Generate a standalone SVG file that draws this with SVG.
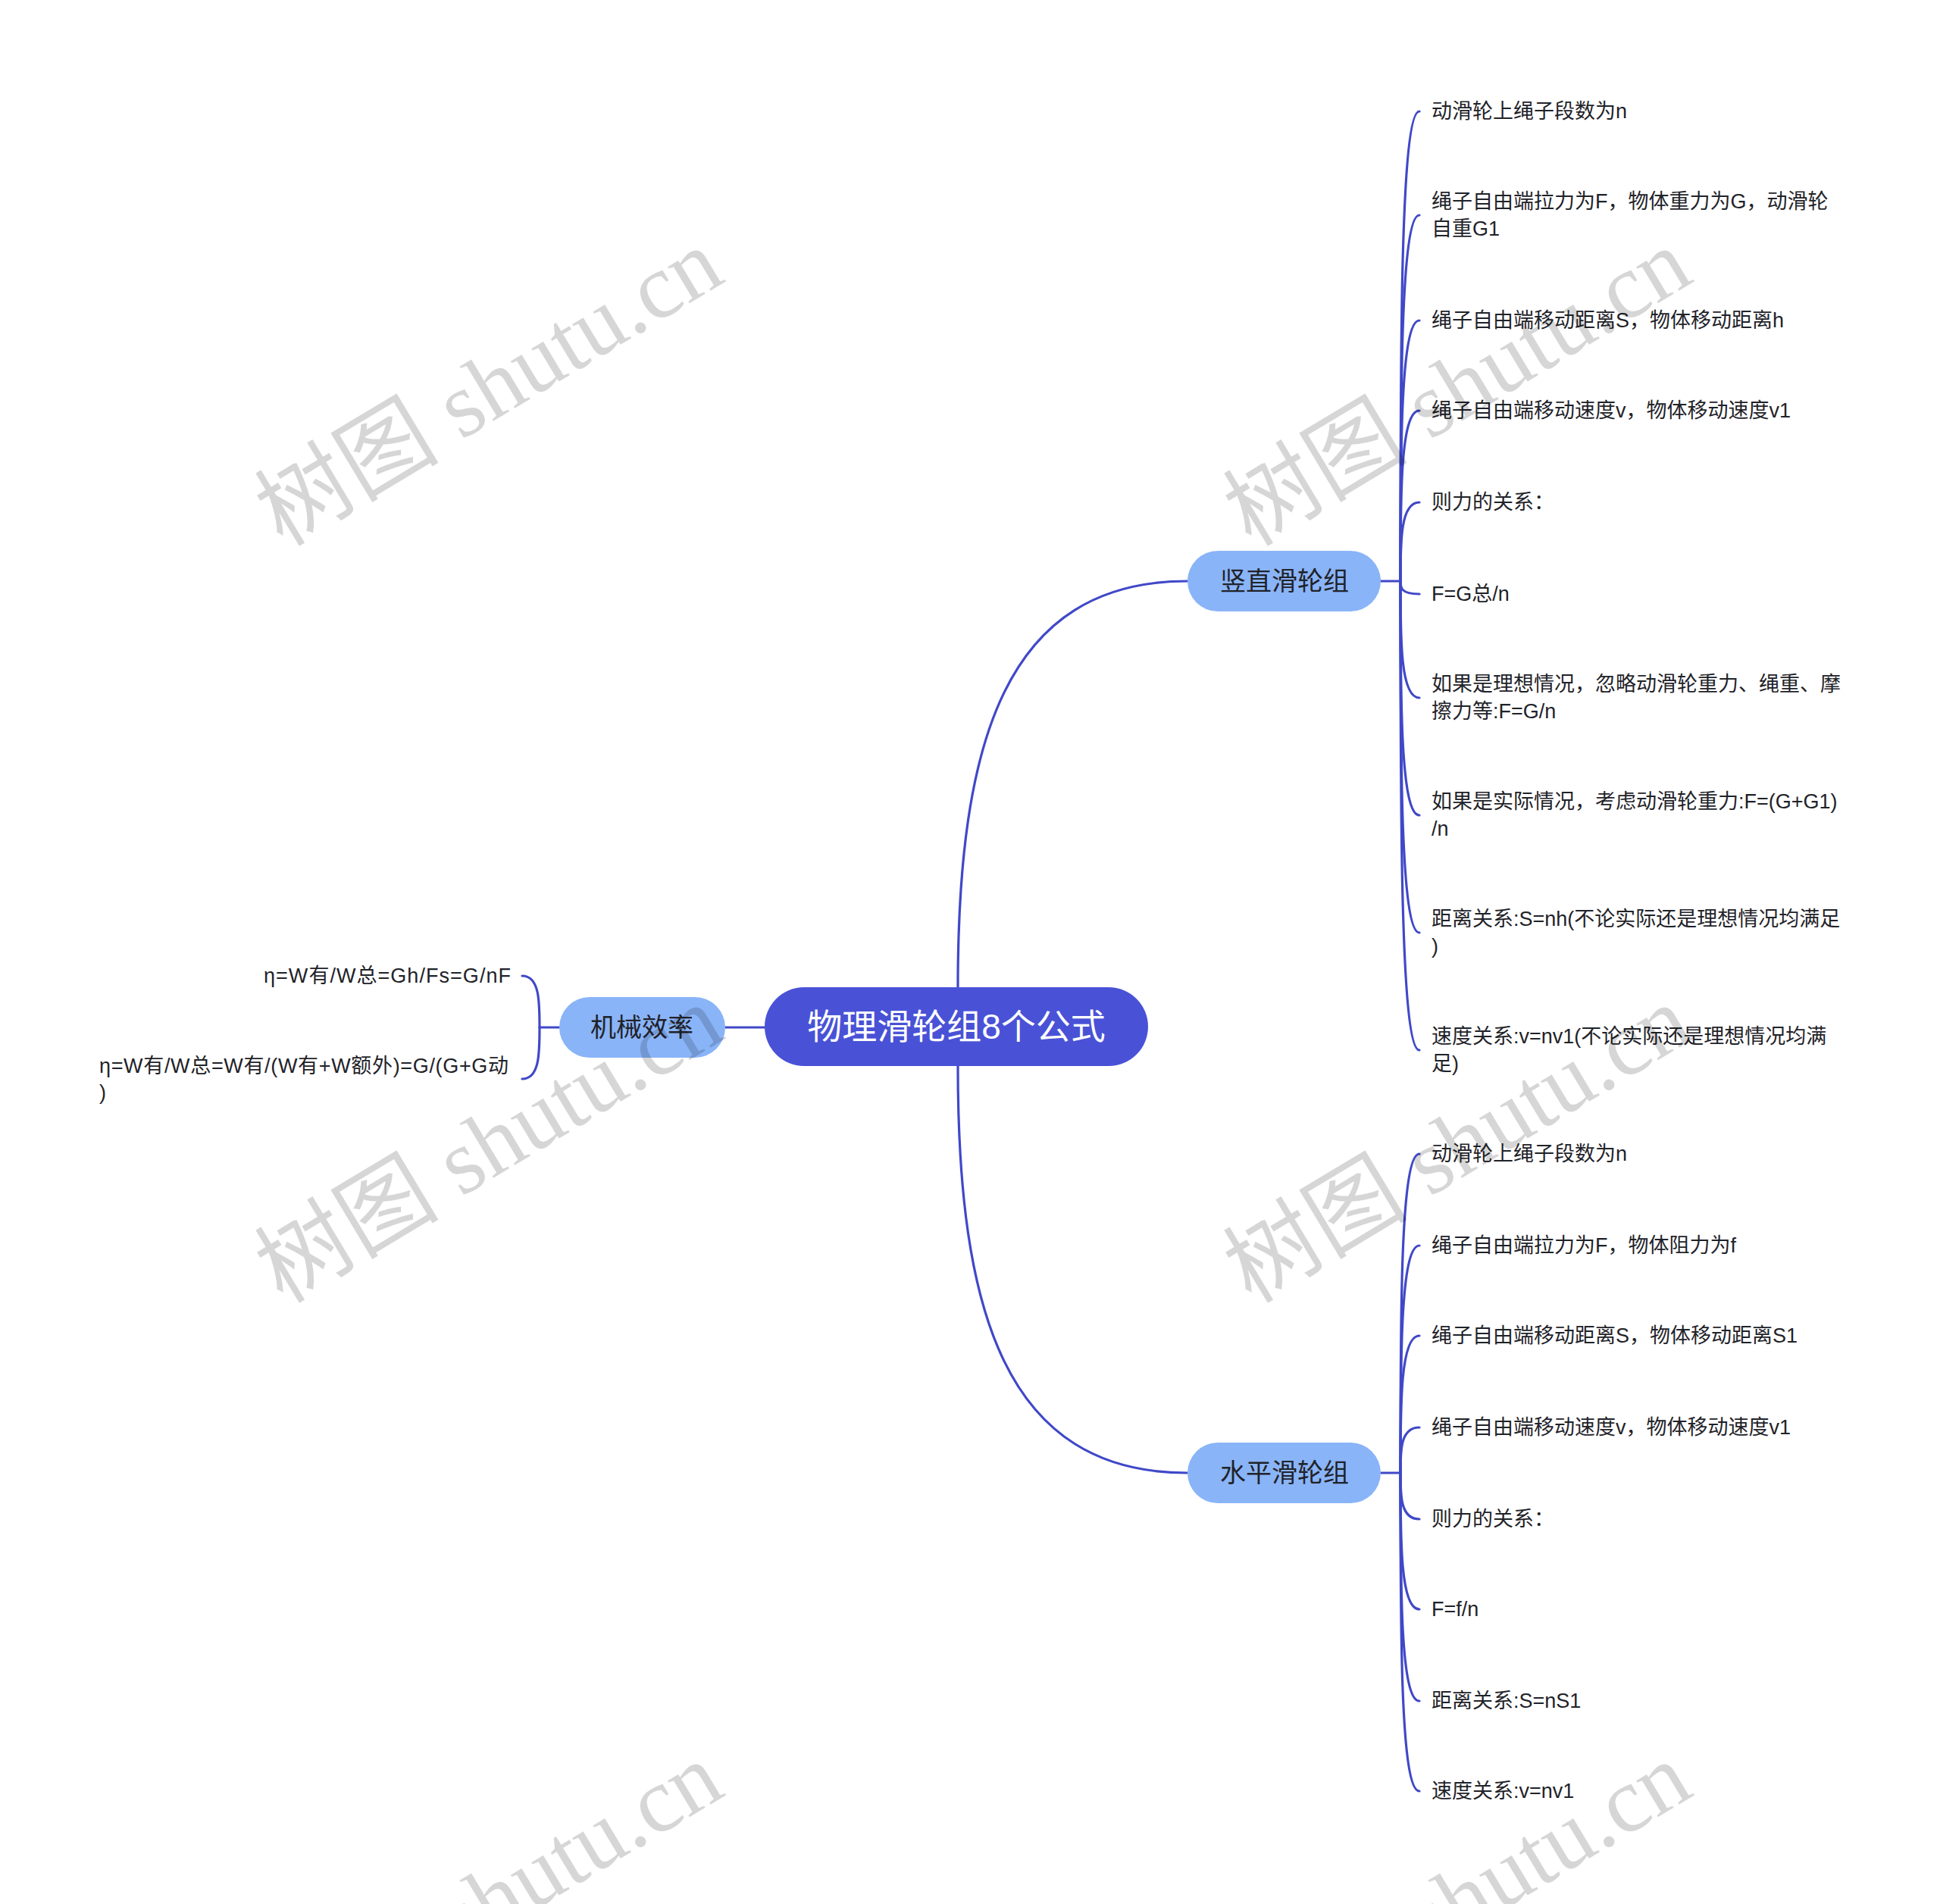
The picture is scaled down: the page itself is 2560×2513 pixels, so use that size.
<svg xmlns="http://www.w3.org/2000/svg" width="2560" height="2513" viewBox="0 0 2560 2513">
<style>
.conn{fill:none;stroke:#4048C8;stroke-width:3.2;stroke-linecap:round}
.root{fill:#4952D6}
.main{fill:#8AB4F8}
.rt{font-family:"Liberation Sans","Noto Sans CJK SC",sans-serif;font-size:46px;fill:#FFFFFF;text-anchor:middle;dominant-baseline:central}
.mt{font-family:"Liberation Sans","Noto Sans CJK SC",sans-serif;font-size:34px;fill:#1F2329;text-anchor:middle;dominant-baseline:central}
.ct{font-family:"Liberation Sans","Noto Sans CJK SC",sans-serif;font-size:27px;fill:#1F2329;dominant-baseline:central}
.wm{font-family:"Liberation Serif","Noto Sans CJK SC",serif;font-size:122px;fill:#000;fill-opacity:0.16;text-anchor:middle;dominant-baseline:central}
</style>
<rect width="2560" height="2513" fill="#FFFFFF"/>
<g id="connectors">
<path class="conn" d="M1264 1303 C1264 980 1326 767 1567 767"/>
<path class="conn" d="M1264 1407 C1264 1730 1326 1944 1567 1944"/>
<path class="conn" d="M1009 1356 L957 1356"/>
<path class="conn" d="M738 1356 L712 1356"/>
<path class="conn" d="M712 1356 C712 1322 712 1288 689 1288"/>
<path class="conn" d="M712 1356 C712 1390 712 1424 689 1424"/>
<path class="conn" d="M1822 767 L1848 767"/>
<path class="conn" d="M1848 767 C1848 457 1848 147 1873 147"/>
<path class="conn" d="M1848 767 C1848 525 1848 284 1873 284"/>
<path class="conn" d="M1848 767 C1848 595 1848 423 1873 423"/>
<path class="conn" d="M1848 767 C1848 654 1848 542 1873 542"/>
<path class="conn" d="M1848 767 C1848 715 1848 663 1873 663"/>
<path class="conn" d="M1848 767 C1848 775 1848 784 1873 784"/>
<path class="conn" d="M1848 767 C1848 844 1848 921 1873 921"/>
<path class="conn" d="M1848 767 C1848 921 1848 1076 1873 1076"/>
<path class="conn" d="M1848 767 C1848 999 1848 1231 1873 1231"/>
<path class="conn" d="M1848 767 C1848 1076 1848 1386 1873 1386"/>
<path class="conn" d="M1822 1944 L1848 1944"/>
<path class="conn" d="M1848 1944 C1848 1733 1848 1523 1873 1523"/>
<path class="conn" d="M1848 1944 C1848 1794 1848 1644 1873 1644"/>
<path class="conn" d="M1848 1944 C1848 1853 1848 1763 1873 1763"/>
<path class="conn" d="M1848 1944 C1848 1914 1848 1884 1873 1884"/>
<path class="conn" d="M1848 1944 C1848 1974 1848 2005 1873 2005"/>
<path class="conn" d="M1848 1944 C1848 2034 1848 2124 1873 2124"/>
<path class="conn" d="M1848 1944 C1848 2094 1848 2245 1873 2245"/>
<path class="conn" d="M1848 1944 C1848 2154 1848 2364 1873 2364"/>
</g>
<g id="root">
<rect class="root" x="1009" y="1303" width="506" height="104" rx="52"/>
<text class="rt" x="1262" y="1355">物理滑轮组8个公式</text>
</g>
<g id="n-jixie">
<rect class="main" x="738" y="1316" width="219" height="80" rx="40"/>
<text class="mt" x="847" y="1356">机械效率</text>
</g>
<g id="n-shuzhi">
<rect class="main" x="1567" y="727" width="255" height="80" rx="40"/>
<text class="mt" x="1695" y="767">竖直滑轮组</text>
</g>
<g id="n-shuiping">
<rect class="main" x="1567" y="1904" width="255" height="80" rx="40"/>
<text class="mt" x="1695" y="1944">水平滑轮组</text>
</g>
<g id="j1"><text class="ct" x="348" y="1288" textLength="326" lengthAdjust="spacing">η=W有/W总=Gh/Fs=G/nF</text></g>
<g id="j2"><text class="ct" x="131" y="1407" textLength="540" lengthAdjust="spacing">η=W有/W总=W有/(W有+W额外)=G/(G+G动</text><text class="ct" x="131" y="1442">)</text></g>
<g id="v1"><text class="ct" x="1889" y="147">动滑轮上绳子段数为n</text></g>
<g id="v2"><text class="ct" x="1889" y="266">绳子自由端拉力为F，物体重力为G，动滑轮</text><text class="ct" x="1889" y="302">自重G1</text></g>
<g id="v3"><text class="ct" x="1889" y="423">绳子自由端移动距离S，物体移动距离h</text></g>
<g id="v4"><text class="ct" x="1889" y="542">绳子自由端移动速度v，物体移动速度v1</text></g>
<g id="v5"><text class="ct" x="1889" y="663">则力的关系：</text></g>
<g id="v6"><text class="ct" x="1889" y="784">F=G总/n</text></g>
<g id="v7"><text class="ct" x="1889" y="903">如果是理想情况，忽略动滑轮重力、绳重、摩</text><text class="ct" x="1889" y="939">擦力等:F=G/n</text></g>
<g id="v8"><text class="ct" x="1889" y="1058">如果是实际情况，考虑动滑轮重力:F=(G+G1)</text><text class="ct" x="1889" y="1094">/n</text></g>
<g id="v9"><text class="ct" x="1889" y="1213">距离关系:S=nh(不论实际还是理想情况均满足</text><text class="ct" x="1889" y="1249">)</text></g>
<g id="v10"><text class="ct" x="1889" y="1368">速度关系:v=nv1(不论实际还是理想情况均满</text><text class="ct" x="1889" y="1404">足)</text></g>
<g id="h1"><text class="ct" x="1889" y="1523">动滑轮上绳子段数为n</text></g>
<g id="h2"><text class="ct" x="1889" y="1644">绳子自由端拉力为F，物体阻力为f</text></g>
<g id="h3"><text class="ct" x="1889" y="1763">绳子自由端移动距离S，物体移动距离S1</text></g>
<g id="h4"><text class="ct" x="1889" y="1884">绳子自由端移动速度v，物体移动速度v1</text></g>
<g id="h5"><text class="ct" x="1889" y="2005">则力的关系：</text></g>
<g id="h6"><text class="ct" x="1889" y="2124">F=f/n</text></g>
<g id="h7"><text class="ct" x="1889" y="2245">距离关系:S=nS1</text></g>
<g id="h8"><text class="ct" x="1889" y="2364">速度关系:v=nv1</text></g>
<g id="watermarks">
<text class="wm" transform="translate(645 511) rotate(-31)">树图 shutu.cn</text>
<text class="wm" transform="translate(1923 511) rotate(-31)">树图 shutu.cn</text>
<text class="wm" transform="translate(645 1510) rotate(-31)">树图 shutu.cn</text>
<text class="wm" transform="translate(1923 1510) rotate(-31)">树图 shutu.cn</text>
<text class="wm" transform="translate(645 2509) rotate(-31)">树图 shutu.cn</text>
<text class="wm" transform="translate(1923 2509) rotate(-31)">树图 shutu.cn</text>
</g>
</svg>
